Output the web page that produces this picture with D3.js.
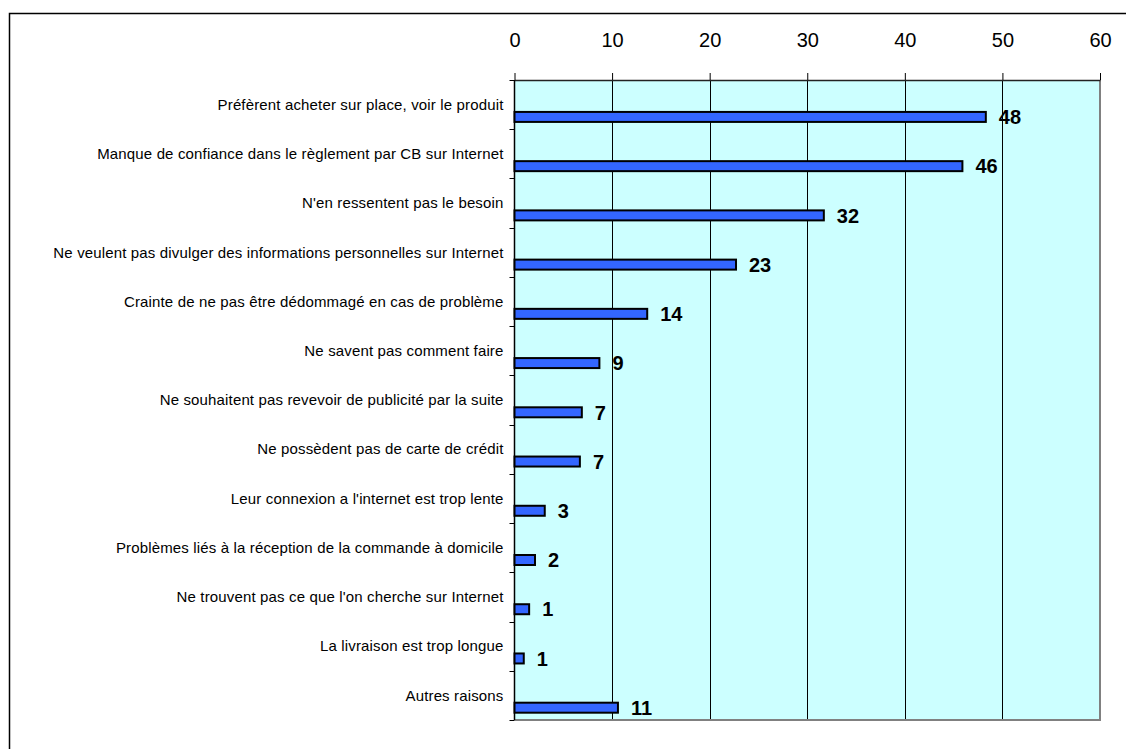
<!DOCTYPE html>
<html>
<head>
<meta charset="utf-8">
<script src="https://cdn.jsdelivr.net/npm/d3@7"></script>
<style>
  html, body { margin: 0; padding: 0; background: #ffffff; }
  svg { display: block; font-family: "Liberation Sans", Arial, sans-serif; }
</style>
</head>
<body>
<svg id="chart" width="1126" height="749"></svg>
<script>
// ---- data ----
const categories = [
  "Préfèrent acheter sur place, voir le produit",
  "Manque de confiance dans le règlement par CB sur Internet",
  "N'en ressentent pas le besoin",
  "Ne veulent pas divulger des informations personnelles sur Internet",
  "Crainte de ne pas être dédommagé  en cas de problème",
  "Ne savent pas comment faire",
  "Ne souhaitent pas revevoir de publicité par la suite",
  "Ne possèdent pas de carte de crédit",
  "Leur connexion a l'internet est trop lente",
  "Problèmes liés à la réception de la commande à domicile",
  "Ne trouvent pas ce que l'on cherche sur Internet",
  "La livraison est trop longue",
  "Autres raisons"
];
const values = [48.3, 45.9, 31.7, 22.7, 13.6, 8.7, 6.9, 6.7, 3.1, 2.1, 1.5, 0.95, 10.6];
const valueLabels = ["48", "46", "32", "23", "14", "9", "7", "7", "3", "2", "1", "1", "11"];
const tickValues = [0, 10, 20, 30, 40, 50, 60];

// ---- layout ----
const svg = d3.select("#chart");
const plot = { left: 514.5, right: 1100, top: 80, bottom: 720 };

const x = d3.scaleLinear().domain([0, 60]).range([plot.left, plot.right]);
const y = d3.scaleBand().domain(categories).range([plot.top, plot.bottom]).paddingInner(0).paddingOuter(0);
const bw = y.bandwidth();

// outer chart border
svg.append("rect")
  .attr("x", 9.5).attr("y", 13.5)
  .attr("width", 1200).attr("height", 800)
  .attr("fill", "none").attr("stroke", "#000").attr("stroke-width", 1.5);

// plot background
svg.append("rect")
  .attr("x", plot.left).attr("y", plot.top)
  .attr("width", plot.right - plot.left).attr("height", plot.bottom - plot.top)
  .attr("fill", "#ccffff");

// gridlines
svg.append("g").selectAll("line")
  .data(tickValues.filter(v => v > 0 && v < 60))
  .join("line")
  .attr("x1", d => Math.round(x(d)) + 0.5).attr("x2", d => Math.round(x(d)) + 0.5)
  .attr("y1", plot.top).attr("y2", plot.bottom)
  .attr("stroke", "#000").attr("stroke-width", 1);

// plot border: right & bottom gray
svg.append("path")
  .attr("d", `M${plot.right},${plot.top} V${plot.bottom} H${plot.left}`)
  .attr("fill", "none").attr("stroke", "#808080").attr("stroke-width", 2);

// top axis
const xAxis = d3.axisTop(x).tickValues(tickValues).tickSize(7).tickPadding(26).tickSizeOuter(0)
  .tickFormat(d3.format("d"));
const gx = svg.append("g").attr("transform", `translate(0,${plot.top})`).call(xAxis);
gx.select(".domain").attr("stroke", "#222").attr("stroke-width", 1.5);
gx.selectAll(".tick line").attr("stroke", "#000");
gx.selectAll(".tick text")
  .attr("font-family", "'Liberation Sans', Arial, sans-serif")
  .attr("font-size", 20).attr("fill", "#000");

// left axis line
svg.append("line")
  .attr("x1", plot.left).attr("x2", plot.left)
  .attr("y1", plot.top).attr("y2", plot.bottom)
  .attr("stroke", "#000").attr("stroke-width", 1.5);

// category boundary ticks
const boundaries = categories.map(c => y(c)).concat([plot.bottom]);
svg.append("g").selectAll("line")
  .data(boundaries)
  .join("line")
  .attr("x1", plot.left - 5).attr("x2", plot.left)
  .attr("y1", d => Math.round(d) + 0.5).attr("y2", d => Math.round(d) + 0.5)
  .attr("stroke", "#000").attr("stroke-width", 1);

// category labels
svg.append("g").selectAll("text")
  .data(categories)
  .join("text")
  .attr("x", plot.left - 11)
  .attr("y", d => y(d) + bw / 2)
  .attr("dy", "0.35em")
  .attr("text-anchor", "end")
  .attr("font-size", 15)
  .attr("letter-spacing", 0.15)
  .attr("fill", "#000")
  .text(d => d);

// bars
const barH = 10;
svg.append("g").selectAll("rect")
  .data(categories)
  .join("rect")
  .attr("x", x(0))
  .attr("y", d => y(d) + bw * 0.75 - barH / 2)
  .attr("width", (d, i) => x(values[i]) - x(0))
  .attr("height", barH)
  .attr("fill", "#3366ff")
  .attr("stroke", "#000")
  .attr("stroke-width", 2);

// value labels
svg.append("g").selectAll("text")
  .data(categories)
  .join("text")
  .attr("x", (d, i) => x(values[i]) + 13)
  .attr("y", d => y(d) + bw * 0.75)
  .attr("dy", "0.36em")
  .attr("font-size", 20)
  .attr("font-weight", "bold")
  .attr("fill", "#000")
  .text((d, i) => valueLabels[i]);
</script>
</body>
</html>
